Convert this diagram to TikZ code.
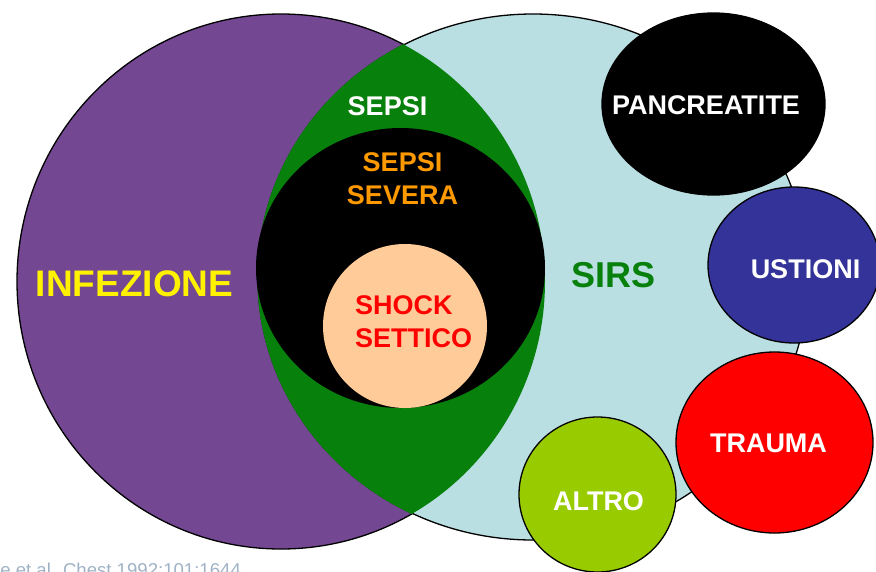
\documentclass[tikz,border=0pt]{standalone}
\usepackage{fontspec}
\setmainfont{Liberation Sans}
\usetikzlibrary{shapes.geometric}

\definecolor{infezione}{RGB}{116,71,146}
\definecolor{sirsblue}{RGB}{186,223,227}
\definecolor{sepsigreen}{RGB}{8,128,12}
\definecolor{peach}{RGB}{255,204,153}
\definecolor{sevorange}{RGB}{255,153,0}
\definecolor{navy}{RGB}{51,51,153}
\definecolor{altrogreen}{RGB}{153,204,0}
\definecolor{citegrey}{RGB}{160,178,198}

\tikzset{
  blob/.style={ellipse, draw=black, line width=1.3pt, inner sep=0pt, outer sep=0pt},
  disc/.style={ellipse, draw=none, inner sep=0pt, outer sep=0pt},
  lbl/.style={font=\bfseries\fontsize{27}{33}\selectfont, align=center, inner sep=0pt},
  biglbl/.style={font=\bfseries\fontsize{37}{44}\selectfont, inner sep=0pt},
}

\begin{document}
\begin{tikzpicture}[x=1pt,y=-1pt]
\useasboundingbox (0,0) rectangle (876,571);
\clip (0,0) rectangle (876,571);
\fill[white] (0,0) rectangle (876,571);

% the two large overlapping sets
\node[blob, fill=infezione, minimum width=528pt, minimum height=535pt] (inf) at (281,281.5) {};
\node[blob, fill=sirsblue, minimum width=550pt, minimum height=526pt] (sirs) at (533,277) {};

% their intersection: sepsi
\begin{scope}
  \clip (281,281.5) ellipse [x radius=264pt, y radius=267.5pt];
  \fill[sepsigreen, draw=sepsigreen, line width=1.6pt] (533,277) ellipse [x radius=275pt, y radius=263pt];
\end{scope}

% nested sets inside the intersection
\node[disc, fill=black, minimum width=289pt, minimum height=280pt] (sev) at (400.5,268) {};
\node[disc, fill=peach, minimum width=164pt, minimum height=164pt] (shock) at (405,326) {};

% other causes of SIRS
\node[blob, fill=black, minimum width=223pt, minimum height=182pt] (pan) at (713.5,104) {};
\node[blob, fill=navy, minimum width=172pt, minimum height=156pt] (ust) at (794,265) {};
\node[blob, fill=red, minimum width=197pt, minimum height=181pt] (tra) at (774.5,442.5) {};
\node[blob, fill=altrogreen, minimum width=157pt, minimum height=155pt] (alt) at (597.5,494.5) {};

% labels
\node[biglbl, text=yellow] (tinf) at (134.5,284) {INFEZIONE};
\node[biglbl, text=sepsigreen, font=\bfseries\fontsize{36}{43}\selectfont] (tsirs) at (613.5,275) {SIRS};
\node[lbl, text=white] (tsepsi) at (387.5,106) {SEPSI};
\node[lbl, text=sevorange] (tsev) at (402.5,179) {SEPSI\\SEVERA};
\node[lbl, text=red, align=left, anchor=west] (tshock) at (355,322) {SHOCK\\SETTICO};
\node[lbl, text=white] (tpan) at (706,105) {PANCREATITE};
\node[lbl, text=white] (tust) at (805.5,269.5) {USTIONI};
\node[lbl, text=white] (ttra) at (768.5,443) {TRAUMA};
\node[lbl, text=white] (talt) at (598.5,501.5) {ALTRO};

% source reference along the lower edge
\node[anchor=base west, inner sep=0pt, text=citegrey, font=\fontsize{18.6}{22}\selectfont] (cite) at (-33,576.5) {Bone et al. Chest 1992;101:1644};
\end{tikzpicture}
\end{document}
